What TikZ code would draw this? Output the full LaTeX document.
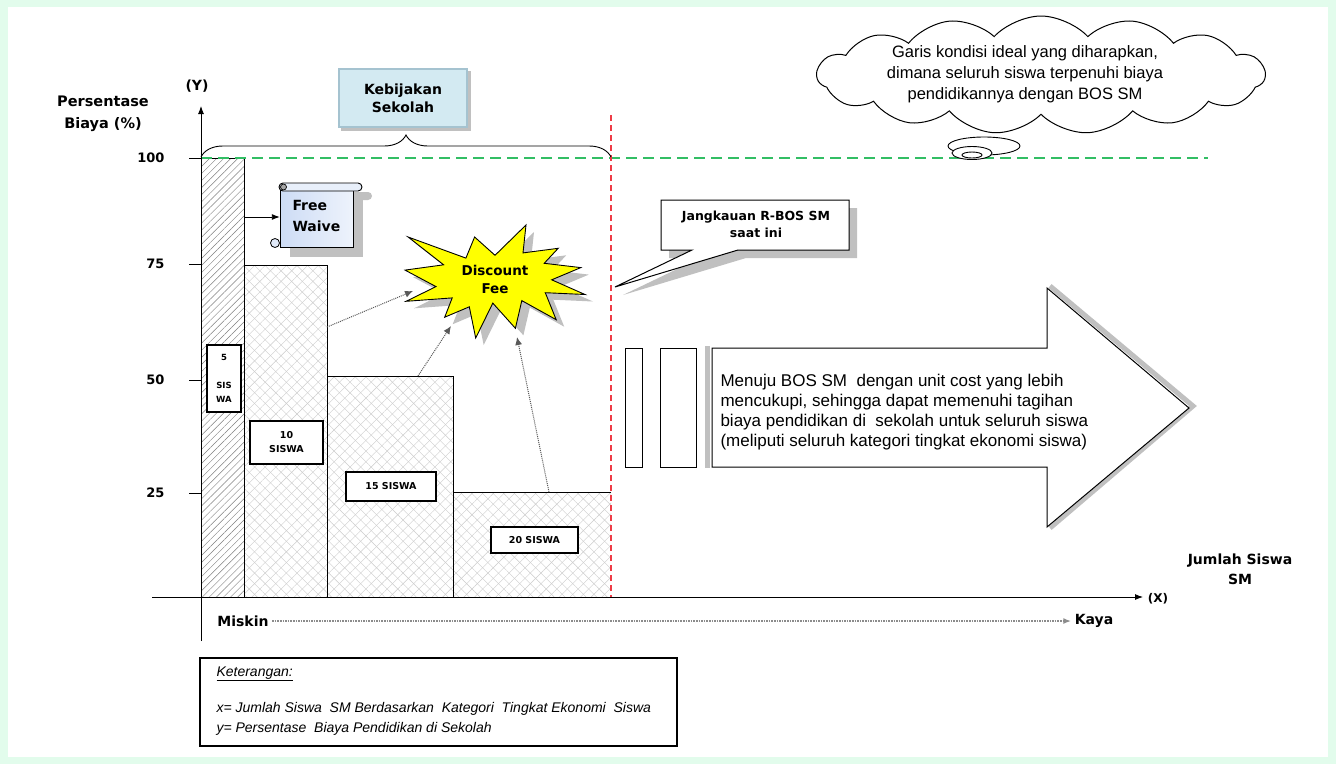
\documentclass[tikz,border=0pt]{standalone}
\usepackage{fontspec}
\setmainfont{Liberation Sans}
\newfontfamily\tagfont{DejaVu Sans}
\usetikzlibrary{patterns.meta,decorations.pathreplacing,shapes.symbols,shapes.geometric,arrows.meta}

\definecolor{pagegreen}{RGB}{226,252,236}
\definecolor{policyblue}{RGB}{211,234,242}
\definecolor{policyedge}{RGB}{165,195,208}
\definecolor{idealgreen}{RGB}{50,190,100}
\definecolor{limitred}{RGB}{238,60,70}
\definecolor{shadowgray}{RGB}{192,192,192}
\definecolor{scrollblue}{RGB}{205,220,245}
\definecolor{burst}{RGB}{255,255,0}

\newcommand{\fsz}[2]{\fontsize{#1}{#2}\selectfont}

\tikzset{
  axisline/.style={line width=0.9pt,-{Latex[length=8pt,width=6pt]}},
  tickline/.style={line width=0.8pt},
  ticklabel/.style={anchor=east,font=\tagfont\bfseries\fsz{13}{15}},
  tag/.style={align=center,font=\tagfont\bfseries\fsz{14}{18}},
  barline/.style={line width=0.9pt},
  slant/.style={pattern={Lines[angle=45,distance=5pt,line width=0.45pt]},pattern color=black!50},
  gridA/.style={pattern={Lines[angle=45,distance=7.5pt,line width=0.4pt]},pattern color=black!20},
  gridB/.style={pattern={Lines[angle=-45,distance=7.5pt,line width=0.4pt]},pattern color=black!20},
  countbox/.style={draw,line width=1.4pt,fill=white,inner sep=0pt,align=center,font=\tagfont\bfseries\fsz{9.5}{11}},
  dotlink/.style={densely dotted,line width=1pt,draw=black!65,-{Latex[length=8pt,width=7pt]}},
  idealline/.style={draw=idealgreen,line width=1.6pt,dash pattern=on 11pt off 6pt},
  reachline/.style={draw=limitred,line width=2pt,dash pattern=on 6pt off 4pt},
  plain/.style={align=left,font=\fsz{17}{20}},
  note/.style={anchor=west,font=\itshape\fsz{14}{15}},
  dropfill/.style={fill=shadowgray,draw=none},
}

\begin{document}
\begin{tikzpicture}[x=1pt,y=-1pt]
% page and frame
\fill[pagegreen] (0,0) rectangle (1336,764);
\fill[white] (8,7) rectangle (1328,757);

% bars (students by economic category)
\fill[slant] (201,158) rectangle (244,597);
\fill[gridA] (244,265) rectangle (327,597);
\fill[gridB] (244,265) rectangle (327,597);
\fill[gridA] (327,376) rectangle (453,597);
\fill[gridB] (327,376) rectangle (453,597);
\fill[gridA] (453,492) rectangle (611,597);
\fill[gridB] (453,492) rectangle (611,597);
\draw[barline] (201,158) -| (244,597);
\draw[barline] (244,265) -| (327,597);
\draw[barline] (327,376) -| (453,597);
\draw[barline] (453,492) -- (611,492);

% ideal line at 100 % and current reach
\draw[idealline] (201,158) -- (1208,158);
\draw[reachline] (611,115) -- (611,597);

% axes and ticks
\draw[axisline] (201,641) -- (201,106);
\draw[axisline] (152,597) -- (1143,597);
\foreach \yy/\vv in {158/100,264/75,380/50,493/25}{
  \draw[tickline] (189,\yy) -- (201,\yy);
  \node[ticklabel] (tick\vv) at (168,\yy) {\vv};
}
\node[tag] (ylab) at (197,86) {(Y)};
\node[tag,font=\tagfont\bfseries\fsz{14.5}{22}] (ytitle) at (103,114) {Persentase\\Biaya (\%)};
\node[tag,font=\tagfont\bfseries\fsz{12}{14}] (xlab) at (1158,599) {(X)};
\node[tag,font=\tagfont\bfseries\fsz{14}{20}] (xtitle) at (1240,569) {Jumlah Siswa\\SM};

% school policy brace
\draw[decorate,decoration={brace,amplitude=22pt},line width=0.9pt] (201,157) -- (611,157);
\fill[dropfill] (341,71) rectangle (471,131);
\node[draw=policyedge,line width=2pt,fill=policyblue,minimum width=128pt,minimum height=58pt,tag] (policy) at (403,98) {Kebijakan\\Sekolah};

% count labels inside the bars
\node[countbox,minimum width=34pt,minimum height=67pt,font=\tagfont\bfseries\fsz{8.5}{14}] (c5) at (224,378.5) {5\\[14pt]SIS\\WA};
\node[countbox,minimum width=73pt,minimum height=43pt,font=\tagfont\bfseries\fsz{9.5}{14}] (c10) at (286.5,442.5) {10\\SISWA};
\node[countbox,minimum width=90pt,minimum height=29pt] (c15) at (391,486.5) {15 SISWA};
\node[countbox,minimum width=87pt,minimum height=26pt] (c20) at (534.5,540) {20 SISWA};

% free waive scroll
\fill[dropfill] (290,193) rectangle (363,257);
\fill[dropfill,rounded corners=4pt] (290,192) rectangle (372,200);
\node[minimum width=73pt,minimum height=56pt,inner sep=0pt] (scroll) at (316.5,219) {};
\shade[left color=scrollblue,right color=scrollblue!35] (280,191) rectangle (353,247);
\draw[line width=0.9pt] (280,190) -- (280,247) -- (353,247) -- (353,191);
\draw[line width=0.9pt,fill=scrollblue!45,rounded corners=4pt] (279,183) rectangle (362,191);
\draw[line width=0.7pt,fill=black!35] (283.5,187) circle (3pt);
\draw[line width=0.8pt,fill=scrollblue!60] (275,243) circle (4.5pt);
\node[anchor=west,align=left,font=\tagfont\bfseries\fsz{14}{21}] (fwtext) at (289,216) {Free\\Waive};
\coordinate (fwsrc) at (244,217);
\draw[line width=0.9pt,-{Latex[length=8pt,width=6pt]}] (fwsrc) -- (fwsrc -| scroll.west);

% discount fee burst
\def\burst{(495.0,255.3) -- (526.0,225.0) -- (523.0,252.9) -- (558.2,248.3) -- (544.2,263.3) -- (580.8,267.6) -- (551.7,279.8) -- (585.0,294.5) -- (545.3,292.7) -- (556.2,319.7) -- (521.8,300.6) -- (515.4,328.3) -- (492.8,303.1) -- (475.7,338.0) -- (469.3,306.8) -- (444.7,317.2) -- (452.2,297.9) -- (406.1,301.3) -- (436.0,286.6) -- (405.0,270.1) -- (443.6,264.8) -- (408.1,237.0) -- (465.9,258.1) -- (474.6,237.0) -- cycle}
\fill[dropfill,shift={(8,7)}] \burst;
\draw[line width=0.9pt,fill=burst] \burst;
\node[tag,font=\tagfont\bfseries\fsz{13.5}{18}] (disc) at (495,279) {Discount\\Fee};

% dotted links from bars to the burst
\coordinate (fromB2) at (327,327);
\coordinate (fromB3) at (418,376);
\coordinate (fromB4) at (549,492);
\coordinate (toA) at (413,291);
\coordinate (toB) at (451,326);
\coordinate (toC) at (517,337);
\draw[dotlink] (fromB2) -- (toA);
\draw[dotlink] (fromB3) -- (toB);
\draw[dotlink] (fromB4) -- (toC);

% current reach callout
\fill[dropfill,shift={(8,8)}] (661,200) -- (849,200) -- (849,250) -- (738,250) -- (615,287) -- (692,250) -- (661,250) -- cycle;
\draw[line width=1pt,fill=white] (661,200) -- (849,200) -- (849,250) -- (738,250) -- (615,287) -- (692,250) -- (661,250) -- cycle;
\node[tag,font=\tagfont\bfseries\fsz{12.5}{17}] (reach) at (756,224) {Jangkauan R-BOS SM\\saat ini};

% thought cloud
\node[cloud,draw,line width=1pt,fill=white,cloud puffs=15,cloud puff arc=95,aspect=3.8,minimum width=448pt,minimum height=118pt,inner sep=0pt] (cloud) at (1041,75) {};
\node[align=center,font=\fsz{16.5}{21}] (cloudtext) at (1025,74) {Garis kondisi ideal yang diharapkan,\\dimana seluruh siswa terpenuhi biaya\\pendidikannya dengan BOS SM};
\node[ellipse,draw,line width=0.9pt,fill=white,minimum width=72pt,minimum height=18pt,inner sep=0pt] (bubA) at (984,146) {};
\node[ellipse,draw,line width=0.9pt,fill=white,minimum width=40pt,minimum height=13pt,inner sep=0pt] (bubB) at (972,153) {};
\node[ellipse,draw,line width=0.9pt,fill=white,minimum width=20pt,minimum height=6pt,inner sep=0pt] (bubC) at (972,155) {};

% transition bars and big arrow
\node[draw,line width=1pt,minimum width=17pt,minimum height=119pt,inner sep=0pt] (gapA) at (633.5,407.5) {};
\node[draw,line width=1pt,minimum width=36pt,minimum height=119pt,inner sep=0pt] (gapB) at (678,407.5) {};
\draw[draw=shadowgray,line width=5pt] (707,346) -- (707,468);
\draw[draw=shadowgray,line width=5pt] (1050,286) -- (1193,406) -- (1050,528);
\draw[line width=1pt,fill=white] (712,348) -- (1047,348) -- (1047,288) -- (1189,408) -- (1047,527) -- (1047,467) -- (712,467) -- cycle;
\node[plain,anchor=west] (goal) at (717,412) {Menuju BOS SM\ \ dengan unit cost yang lebih\\mencukupi, sehingga dapat memenuhi tagihan\\biaya pendidikan di\ \ sekolah untuk seluruh siswa\\(meliputi seluruh kategori tingkat ekonomi siswa)};

% economic range along x
\node[tag,font=\tagfont\bfseries\fsz{14}{15}] (poor) at (243,621) {Miskin};
\node[tag,font=\tagfont\bfseries\fsz{14}{15}] (rich) at (1094,621) {Kaya};
\draw[densely dotted,draw=black!45,line width=1.6pt,-{Latex[length=8pt,width=6pt,fill=black]}] (poor.east) -- (rich.west);

% legend
\node[draw,line width=1.3pt,minimum width=477pt,minimum height=88pt,inner sep=0pt] (legend) at (438.5,702) {};
\node[note] (legtitle) at (213,674) {\underline{Keterangan:}};
\node[note] (legx) at (213,709) {x= Jumlah Siswa\ \ SM Berdasarkan\ \ Kategori\ \ Tingkat Ekonomi\ \ Siswa};
\node[note] (legy) at (213,729) {y= Persentase\ \ Biaya Pendidikan di Sekolah};

\useasboundingbox (0,0) rectangle (1336,764);
\end{tikzpicture}
\end{document}
